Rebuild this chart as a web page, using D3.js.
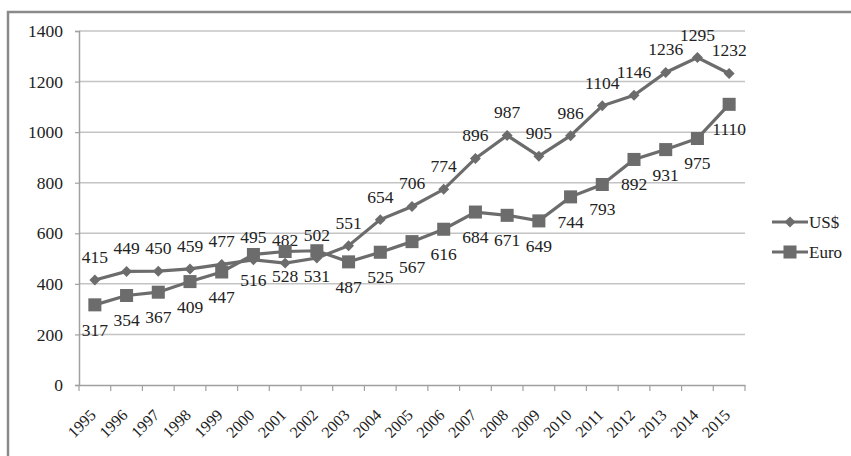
<!DOCTYPE html>
<html>
<head>
<meta charset="utf-8">
<script src="https://cdn.jsdelivr.net/npm/d3@7"></script>
<style>
  body { margin: 0; background: #fff; }
</style>
</head>
<body>
<div id="chart"></div>
<script>
var years = ["1995","1996","1997","1998","1999","2000","2001","2002","2003","2004","2005",
             "2006","2007","2008","2009","2010","2011","2012","2013","2014","2015"];
var usd  = [415,449,450,459,477,495,482,502,551,654,706,774,896,987,905,986,1104,1146,1236,1295,1232];
var euro = [317,354,367,409,447,516,528,531,487,525,567,616,684,671,649,744,793,892,931,975,1110];
var yTicks = [0,200,400,600,800,1000,1200,1400];
var seriesNames = ["US$","Euro"];

var width = 851, height = 456;
var lineColor = "#6c6c6c";
var serif = "'Liberation Serif', 'Times New Roman', Times, serif";

var svg = d3.select("#chart").append("svg")
    .attr("width", width)
    .attr("height", height)
    .style("font-family", serif);

// outer frame (only top and left edges show)
svg.append("path")
    .attr("d", "M8,456 L8,12 L851,12")
    .attr("fill", "none")
    .attr("stroke", "#8a8a8a")
    .attr("stroke-width", 2.5);

var x = d3.scaleBand().domain(years).range([79, 745]);
var y = d3.scaleLinear().domain([0, 1400]).range([385, 31]);

// gridlines
svg.selectAll("line.grid").data(yTicks.slice(1)).enter().append("line")
    .attr("class", "grid")
    .attr("x1", 79).attr("x2", 745)
    .attr("y1", function(d) { return y(d); })
    .attr("y2", function(d) { return y(d); })
    .attr("stroke", "#c4c4c4")
    .attr("stroke-width", 1.5);

// y axis
var yAxis = svg.append("g")
    .attr("transform", "translate(79,0)")
    .call(d3.axisLeft(y).tickValues(yTicks).tickFormat(d3.format("d")).tickSize(4).tickPadding(12));
yAxis.attr("font-family", null);
yAxis.select(".domain").attr("stroke", "#a0a0a0").attr("stroke-width", 1.5);
yAxis.selectAll(".tick line").attr("stroke", "#a0a0a0").attr("stroke-width", 1.2);
yAxis.selectAll("text")
    .style("font-family", serif)
    .style("font-size", "17.5px")
    .attr("fill", "#222");

// x axis
var xAxis = svg.append("g")
    .attr("transform", "translate(0,385)")
    .call(d3.axisBottom(x).tickSize(0).tickFormat(""));
xAxis.select(".domain").attr("stroke", "#a0a0a0").attr("stroke-width", 1.5);

// x ticks at band boundaries
var bounds = years.map(function(d) { return x(d); }).concat([x.range()[1]]);
svg.selectAll("line.xtick").data(bounds).enter().append("line")
    .attr("class", "xtick")
    .attr("x1", function(d) { return d; })
    .attr("x2", function(d) { return d; })
    .attr("y1", 385).attr("y2", 391)
    .attr("stroke", "#a0a0a0")
    .attr("stroke-width", 1.2);

svg.selectAll("text.xlab").data(years).enter().append("text")
    .attr("class", "xlab")
    .style("font-family", serif)
    .style("font-size", "16px")
    .attr("fill", "#222")
    .attr("text-anchor", "end")
    .attr("transform", function(d) {
        var cx = x(d) + x.bandwidth() / 2 + 2;
        return "translate(" + cx + ",416) rotate(-45)";
    })
    .text(function(d) { return d; });

var cx = function(d, i) { return x(years[i]) + x.bandwidth() / 2; };

var line = d3.line()
    .x(function(d, i) { return cx(d, i); })
    .y(function(d) { return y(d); });

var diamond = d3.symbol().type(d3.symbolSquare).size(60);
var square = d3.symbol().type(d3.symbolSquare).size(170);

function drawSeries(values, sym, rot, labelDy) {
    svg.append("path")
        .datum(values)
        .attr("d", line)
        .attr("fill", "none")
        .attr("stroke", lineColor)
        .attr("stroke-width", 3.2);

    svg.selectAll(null).data(values).enter().append("path")
        .attr("d", sym)
        .attr("transform", function(d, i) {
            return "translate(" + cx(d, i) + "," + y(d) + ") rotate(" + rot + ")";
        })
        .attr("fill", lineColor);

    svg.selectAll(null).data(values).enter().append("text")
        .attr("x", function(d, i) { return cx(d, i); })
        .attr("y", function(d) { return y(d) + labelDy; })
        .attr("text-anchor", "middle")
        .style("font-family", serif)
        .style("font-size", "17.5px")
        .attr("fill", "#222")
        .text(function(d) { return d; });
}

drawSeries(usd, diamond, 45, -17);
drawSeries(euro, square, 0, 31);

// legend
var legend = svg.selectAll("g.legend").data(seriesNames).enter().append("g")
    .attr("class", "legend")
    .attr("transform", function(d, i) { return "translate(772," + (222 + i * 30) + ")"; });

legend.append("line")
    .attr("x1", 0).attr("x2", 36)
    .attr("stroke", lineColor)
    .attr("stroke-width", 3);

legend.append("path")
    .attr("d", function(d, i) { return i == 0 ? diamond() : square(); })
    .attr("transform", function(d, i) { return "translate(18,0) rotate(" + (i == 0 ? 45 : 0) + ")"; })
    .attr("fill", lineColor);

legend.append("text")
    .attr("x", 37)
    .attr("dy", "0.35em")
    .style("font-family", serif)
    .style("font-size", "17px")
    .attr("fill", "#222")
    .text(function(d) { return d; });
</script>
</body>
</html>
